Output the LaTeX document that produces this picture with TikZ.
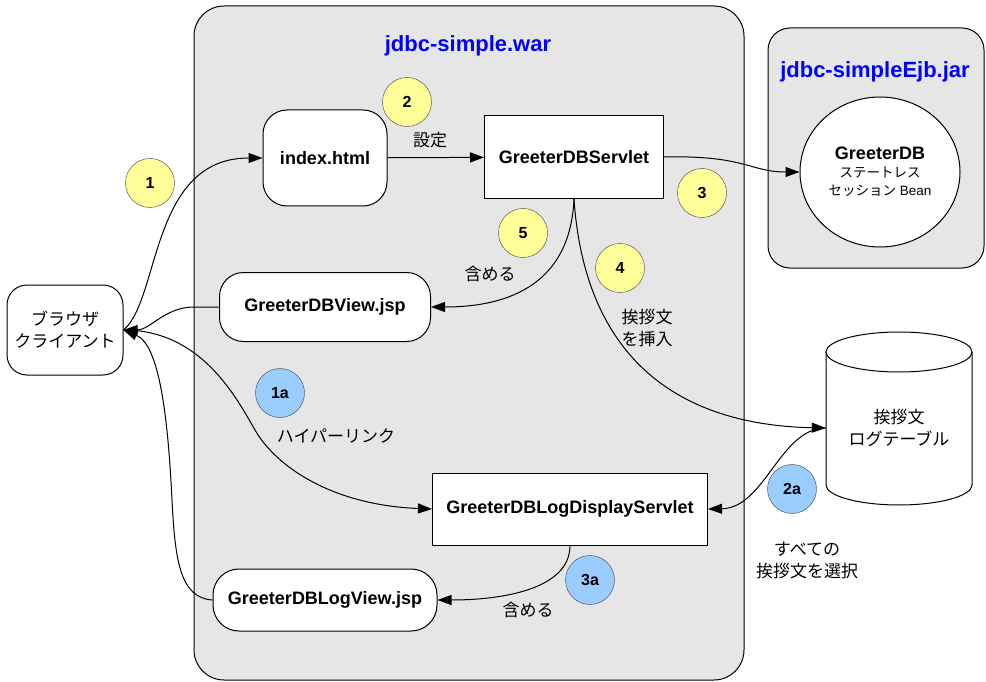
\documentclass[tikz,border=0pt]{standalone}
\usepackage{fontspec}
\setmainfont{Liberation Sans}
\newfontfamily\jpfont{Noto Sans CJK JP}
\definecolor{PaneGray}{RGB}{230,230,230}
\definecolor{MarkYellow}{RGB}{255,255,153}
\definecolor{MarkBlue}{RGB}{153,204,255}
\definecolor{TitleBlue}{RGB}{0,0,255}
\usetikzlibrary{shapes.geometric,arrows.meta}

\begin{document}
\begin{tikzpicture}[x=1pt,y=-1pt,
    pane/.style={draw, fill=PaneGray, line width=1pt},
    pagebox/.style={draw, fill=white, rounded corners=24pt, line width=1pt, inner sep=0pt, font=\bfseries\fontsize{18}{21}\selectfont},
    servletbox/.style={draw, fill=white, line width=1pt, inner sep=0pt, font=\bfseries\fontsize{18}{21}\selectfont},
    stepdot/.style={circle, draw=black!75, fill=MarkYellow, minimum size=49pt, inner sep=0pt, font=\bfseries\fontsize{16}{19}\selectfont},
    altdot/.style={stepdot, fill=MarkBlue},
    jplabel/.style={align=center, font=\jpfont\fontsize{17}{22}\selectfont},
    title/.style={text=TitleBlue, font=\bfseries\fontsize{22}{26}\selectfont},
    flow/.style={line width=1pt, -{Triangle[length=14pt,width=10pt]}}
]
    \useasboundingbox (0,0) rectangle (986,682);
    \fill[white] (0,0) rectangle (986,682);

    \draw[pane, rounded corners=30pt] (194,6) rectangle (744,680);
    \draw[pane, rounded corners=22pt] (768,28) rectangle (984,268);
    \node[title] (wartitle) at (468,46) {jdbc-simple.war};
    \node[title] (jartitle) at (875,72) {jdbc-simpleEjb.jar};

    \draw[line width=1pt, fill=white] (826,352) -- (826,485) .. controls (826,496) and (859,505) .. (899,505)
        .. controls (939,505) and (972,496) .. (972,485) -- (972,352);
    \draw[line width=1pt, fill=white] (899,352) ellipse [x radius=73, y radius=20];

    \node[pagebox, minimum width=124pt, minimum height=96pt] (index) at (325,158) {index.html};
    \node[servletbox, minimum width=179pt, minimum height=83pt] (servlet) at (574,157) {GreeterDBServlet};
    \node[ellipse, draw, fill=white, line width=1pt, minimum width=160pt, minimum height=150pt, inner sep=0pt, align=center,
        font=\fontsize{13.5}{18}\selectfont] (bean) at (880,172)
        {{\bfseries\fontsize{18}{21}\selectfont GreeterDB}\\{\jpfont ステートレス}\\{\jpfont セッション} Bean};
    \node[pagebox, minimum width=211pt, minimum height=69pt] (view) at (325,307) {GreeterDBView.jsp};
    \node[draw, fill=white, rounded corners=20pt, line width=1pt, minimum width=116pt, minimum height=90pt, inner sep=0pt, jplabel]
        (browser) at (65,330) {ブラウザ\\クライアント};
    \node[servletbox, minimum width=275pt, minimum height=72pt] (logdisp) at (570,509) {GreeterDBLogDisplayServlet};
    \node[pagebox, rounded corners=26pt, minimum width=224pt, minimum height=62pt] (logview) at (325,600) {GreeterDBLogView.jsp};
    \node[jplabel, minimum width=146pt, minimum height=153pt, inner sep=0pt] (db) at (899,428) {挨拶文\\ログテーブル};

    \node[stepdot] (s1) at (150,183) {1};
    \node[stepdot] (s2) at (407,102) {2};
    \node[stepdot] (s3) at (702,193) {3};
    \node[stepdot] (s4) at (620,268) {4};
    \node[stepdot] (s5) at (523,233) {5};
    \node[altdot] (a1) at (280,393) {1a};
    \node[altdot] (a2) at (792,489) {2a};
    \node[altdot] (a3) at (590,580) {3a};

    \node[jplabel] (setlbl) at (430,140) {設定};
    \node[jplabel] (inclbl) at (490,274) {含める};
    \node[jplabel] (inslbl) at (647,328) {挨拶文\\を挿入};
    \node[jplabel] (linklbl) at (336,436) {ハイパーリンク};
    \node[jplabel] (sellbl) at (807,560) {すべての\\挨拶文を選択};
    \node[jplabel] (inclbl2) at (528,610) {含める};

    \draw[flow] (browser.east) .. controls (160,300) and (150,158) .. (index.west);
    \draw[flow] (index) -- (servlet);
    \draw[flow] (servlet.east) .. controls (745,155) and (750,172) .. (bean.west);
    \draw[flow] (servlet.south) .. controls (570,290) and (500,307) .. (view.east);
    \draw[flow] (servlet.south) .. controls (585,360) and (680,425) .. (db.west);
    \draw[flow] (db.west) .. controls (780,428) and (765,508) .. (logdisp.east);
    \draw[flow] (logdisp.south) .. controls (570,590) and (500,600) .. (logview.east);
    \draw[flow] (view.west) -- ++(-25,0) .. controls (165,307) and (150,330) .. (browser.east);
    \draw[flow] (browser.east) .. controls (200,330) and (235,395) .. (255,430)
        .. controls (275,465) and (330,505) .. (logdisp.west);
    \draw[flow] (logview.west) .. controls (180,598) and (175,560) .. (172,500)
        .. controls (168,420) and (160,345) .. (browser.east);
\end{tikzpicture}
\end{document}
